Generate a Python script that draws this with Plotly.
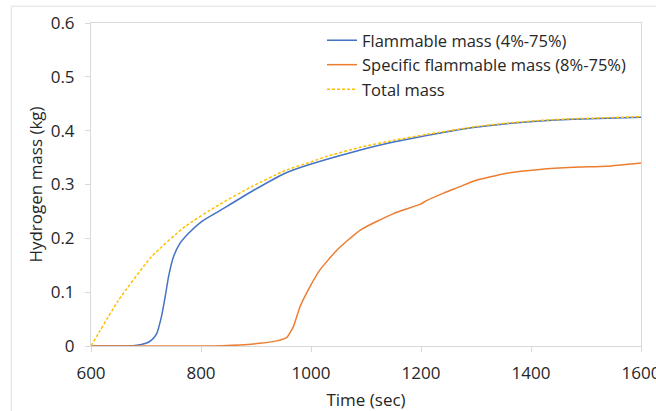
import plotly.graph_objects as go

# Time (sec)
t_total = [600, 650, 710, 771, 832, 892, 953, 1000, 1028, 1089, 1150, 1210, 1271, 1295, 1356, 1416, 1477, 1538, 1600]
m_total = [0.0, 0.085, 0.166, 0.222, 0.262, 0.296, 0.326, 0.342, 0.352, 0.369, 0.382, 0.393, 0.403, 0.407, 0.414, 0.419, 0.422, 0.424, 0.426]

t_flam = [600, 650, 680, 700, 710, 719, 728, 735, 741, 750, 762, 777, 801, 832, 892, 953, 1000, 1050, 1100, 1150, 1210, 1271, 1295, 1356, 1416, 1477, 1538, 1600]
m_flam = [0.0, 0.0, 0.001, 0.005, 0.011, 0.022, 0.054, 0.092, 0.129, 0.166, 0.191, 0.209, 0.231, 0.250, 0.287, 0.321, 0.338, 0.353, 0.367, 0.379, 0.391, 0.402, 0.406, 0.413, 0.418, 0.421, 0.423, 0.425]

t_spec = [600, 700, 800, 870, 907, 940, 956, 968, 980, 998, 1016, 1047, 1089, 1150, 1198, 1210, 1241, 1271, 1295, 1356, 1416, 1477, 1538, 1600]
m_spec = [0.0, 0.0, 0.0, 0.002, 0.005, 0.010, 0.016, 0.036, 0.073, 0.110, 0.141, 0.178, 0.215, 0.246, 0.263, 0.270, 0.284, 0.296, 0.306, 0.321, 0.328, 0.332, 0.334, 0.340]

x_ticks = [600, 800, 1000, 1200, 1400, 1600]
y_ticks = [0, 0.1, 0.2, 0.3, 0.4, 0.5, 0.6]
y_tick_labels = ["0", "0.1", "0.2", "0.3", "0.4", "0.5", "0.6"]

FONT = "Open Sans"
fig = go.Figure()
fig.add_trace(go.Scatter(x=t_flam, y=m_flam, mode="lines", name="Flammable mass (4%-75%)",
                         line=dict(color="#4472C4", width=1.5, shape="spline", smoothing=0.5)))
fig.add_trace(go.Scatter(x=t_spec, y=m_spec, mode="lines", name="Specific flammable mass (8%-75%)",
                         line=dict(color="#ED7D31", width=1.5, shape="spline", smoothing=0.5)))
fig.add_trace(go.Scatter(x=t_total, y=m_total, mode="lines", name="Total mass",
                         line=dict(color="#FFC000", width=1.5, dash="3px,2px", shape="spline", smoothing=0.5)))

fig.update_layout(
    width=656, height=411,
    margin=dict(l=91, r=15, t=23, b=65),
    paper_bgcolor="white", plot_bgcolor="white",
    font=dict(family=FONT, size=17, color="#262626"),
    showlegend=True,
    legend=dict(x=0.42, y=1.0, xanchor="left", yanchor="top",
                bgcolor="rgba(255,255,255,0)", font=dict(size=16.5, family=FONT, color="#262626"),
                itemwidth=30, tracegroupgap=0),
    shapes=[dict(type="rect", xref="paper", yref="paper", x0=-0.145, x1=1.2, y0=-0.3, y1=1.052,
                 line=dict(color="#e0e0e0", width=1), layer="below")],
)
fig.update_xaxes(range=[600, 1600], tickvals=x_ticks, ticks="outside", ticklen=5, tickcolor="#d9d9d9",
                 showline=True, linecolor="#d9d9d9", linewidth=1, mirror=True, showgrid=False, zeroline=False,
                 ticklabeloverflow="allow", ticklabelstandoff=7, automargin=False,
                 title=dict(text="Time (sec)", font=dict(size=17), standoff=14),
                 tickfont=dict(size=17))
fig.update_yaxes(range=[0, 0.6], tickvals=y_ticks, ticktext=y_tick_labels, ticks="outside", ticklen=5,
                 tickcolor="#d9d9d9", showline=True, linecolor="#d9d9d9", linewidth=1, mirror=True,
                 showgrid=False, zeroline=False, ticklabelstandoff=7, automargin=False,
                 title=dict(text="Hydrogen mass (kg)", font=dict(size=17), standoff=3),
                 tickfont=dict(size=17))

fig.write_html("out.html")
